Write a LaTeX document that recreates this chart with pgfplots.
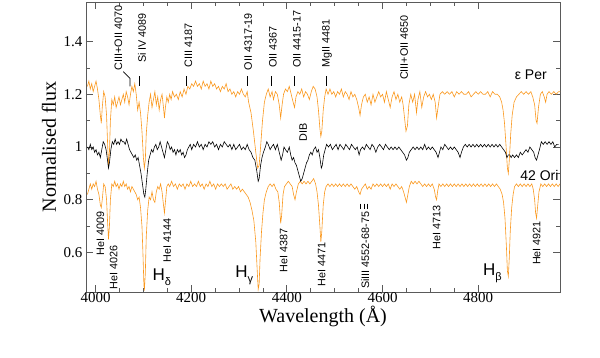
\documentclass[border=0pt]{standalone}
\usepackage{fontspec}
\setmainfont{Liberation Serif}
\setsansfont{Liberation Sans}
\usepackage{pgfplots}
\pgfplotsset{compat=1.18}
\definecolor{spec}{RGB}{250,152,30}
\definecolor{frame}{RGB}{90,90,90}

\newcommand{\lab}{\sffamily\fontsize{10.8}{12}\selectfont}
\tikzset{idl/.style={rotate=90, inner sep=0pt, font=\lab}}

\begin{document}
\begin{tikzpicture}
\begin{axis}[
    scale only axis,
    width=474pt, height=290pt,
    xmin=3980, xmax=4971,
    ymin=0.45, ymax=1.55,
    xtick={4000,4200,4400,4600,4800},
    minor x tick num=3,
    ytick={0.6,0.8,1,1.2,1.4},
    minor y tick num=1,
    scaled x ticks=false,
    /pgf/number format/1000 sep={},
    /pgf/number format/assume math mode=true,
    tick label style={font=\fontsize{15}{15}\selectfont},
    x tick label style={yshift=3pt},
    major tick length=7pt, minor tick length=4pt,
    axis line style={frame, line width=0.8pt},
    every tick/.style={frame, line width=0.8pt},
    xlabel={Wavelength (Å)},
    ylabel={Normalised flux},
    label style={font=\fontsize{20}{20}\selectfont},
    xlabel style={at={(rel axis cs:0.5,0)}, anchor=base, yshift=-31pt},
    ylabel style={at={(rel axis cs:0,0.5)}, anchor=center, xshift=0pt, yshift=37pt},
]
% epsilon Per (offset)
\addplot[spec, line width=0.6pt] coordinates {
(3983,1.23) (3986,1.25) (3989,1.22) (3992,1.24) (3995,1.21) (3998,1.23) (4001,1.25) (4004,1.22)
(4007,1.18) (4010,1.12) (4012,1.09) (4014,1.15) (4017,1.21) (4020,1.19) (4023,1.12) (4025,1.02)
(4027,0.93) (4029,0.98) (4031,1.10) (4034,1.18) (4037,1.16) (4040,1.19) (4043,1.15) (4046,1.17)
(4049,1.19) (4052,1.16) (4055,1.18) (4058,1.20) (4061,1.17) (4064,1.21) (4067,1.19) (4070,1.16)
(4073,1.20) (4076,1.23) (4079,1.21) (4082,1.24) (4085,1.20) (4088,1.14) (4091,1.17) (4094,1.13)
(4097,1.06) (4100,0.96) (4102,0.92) (4104,0.95) (4106,1.05) (4109,1.12) (4112,1.17) (4115,1.20)
(4118,1.15) (4121,1.18) (4124,1.21) (4127,1.16) (4130,1.19) (4133,1.14) (4136,1.18) (4139,1.20)
(4142,1.15) (4144,1.11) (4146,1.15) (4149,1.19) (4152,1.17) (4155,1.20) (4158,1.18) (4161,1.21)
(4165,1.19) (4169,1.20) (4173,1.18) (4177,1.21) (4181,1.19) (4185,1.22) (4189,1.20) (4193,1.23)
(4197,1.22) (4201,1.24) (4205,1.23) (4209,1.25) (4213,1.23) (4217,1.24) (4221,1.22) (4225,1.25)
(4229,1.23) (4233,1.24) (4237,1.22) (4241,1.25) (4245,1.23) (4249,1.24) (4253,1.22) (4257,1.23)
(4261,1.21) (4265,1.23) (4269,1.22) (4273,1.24) (4277,1.21) (4281,1.22) (4285,1.20) (4289,1.21)
(4293,1.19) (4297,1.21) (4301,1.20) (4305,1.22) (4309,1.20) (4313,1.19) (4317,1.21) (4320,1.17)
(4325,1.13) (4330,1.06) (4335,0.98) (4339,0.92) (4342,0.93) (4345,1.00) (4349,1.10) (4353,1.17)
(4357,1.20) (4361,1.22) (4365,1.19) (4369,1.21) (4372,1.18) (4376,1.21) (4380,1.20) (4384,1.16)
(4387,1.11) (4390,1.16) (4393,1.20) (4397,1.22) (4401,1.21) (4405,1.23) (4409,1.20) (4413,1.17)
(4416,1.15) (4419,1.19) (4423,1.21) (4427,1.20) (4431,1.22) (4435,1.19) (4439,1.21) (4443,1.20)
(4447,1.18) (4451,1.21) (4455,1.23) (4459,1.22) (4463,1.19) (4466,1.14) (4469,1.07) (4471,1.04)
(4473,1.06) (4476,1.14) (4479,1.19) (4482,1.22) (4486,1.20) (4490,1.22) (4494,1.20) (4498,1.21)
(4502,1.19) (4506,1.21) (4510,1.20) (4514,1.22) (4518,1.19) (4522,1.21) (4526,1.20) (4530,1.18)
(4534,1.21) (4538,1.19) (4542,1.20) (4546,1.18) (4550,1.15) (4553,1.12) (4556,1.16) (4560,1.19)
(4564,1.20) (4568,1.17) (4572,1.19) (4576,1.16) (4580,1.20) (4584,1.17) (4588,1.19) (4592,1.21)
(4596,1.19) (4600,1.20) (4604,1.17) (4608,1.21) (4612,1.18) (4616,1.15) (4620,1.19) (4624,1.21)
(4628,1.18) (4632,1.20) (4636,1.17) (4640,1.19) (4643,1.16) (4646,1.11) (4649,1.06) (4652,1.08)
(4655,1.16) (4659,1.20) (4663,1.17) (4667,1.20) (4671,1.13) (4674,1.18) (4678,1.21) (4682,1.15)
(4686,1.19) (4690,1.21) (4694,1.19) (4698,1.20) (4702,1.18) (4706,1.20) (4710,1.17) (4713,1.11)
(4716,1.15) (4720,1.20) (4725,1.21) (4730,1.20) (4735,1.21) (4740,1.20) (4745,1.21) (4750,1.19)
(4755,1.21) (4760,1.20) (4765,1.21) (4770,1.20) (4775,1.20) (4780,1.21) (4785,1.19) (4790,1.20)
(4795,1.21) (4800,1.20) (4805,1.21) (4810,1.20) (4815,1.20) (4820,1.21) (4825,1.19) (4830,1.21)
(4835,1.20) (4840,1.20) (4845,1.19) (4849,1.17) (4852,1.14) (4855,1.09) (4858,1.01) (4861,0.92)
(4863,0.90) (4865,0.95) (4868,1.05) (4871,1.12) (4875,1.17) (4880,1.19) (4885,1.20) (4890,1.21)
(4895,1.20) (4900,1.21) (4905,1.20) (4910,1.21) (4914,1.19) (4918,1.16) (4921,1.10) (4923,1.09)
(4926,1.15) (4930,1.20) (4934,1.21) (4938,1.19) (4941,1.17) (4944,1.20) (4948,1.21) (4953,1.20)
(4958,1.21) (4963,1.20) (4968,1.21) (4971,1.21)
};
% 42 Ori (offset)
\addplot[spec, line width=0.6pt] coordinates {
(3983,0.82) (3986,0.84) (3989,0.86) (3992,0.84) (3995,0.86) (3998,0.85) (4001,0.87) (4004,0.84)
(4007,0.82) (4010,0.78) (4012,0.77) (4014,0.80) (4017,0.86) (4020,0.85) (4023,0.80) (4025,0.72)
(4027,0.65) (4029,0.70) (4031,0.80) (4034,0.86) (4037,0.85) (4040,0.87) (4043,0.85) (4046,0.86)
(4049,0.84) (4052,0.86) (4055,0.85) (4058,0.87) (4061,0.85) (4064,0.86) (4067,0.84) (4070,0.85)
(4073,0.83) (4076,0.85) (4079,0.84) (4082,0.83) (4085,0.82) (4088,0.80) (4091,0.81) (4094,0.77)
(4097,0.70) (4099,0.60) (4101,0.48) (4102,0.455) (4104,0.52) (4106,0.66) (4109,0.76) (4112,0.81)
(4115,0.80) (4118,0.83) (4121,0.80) (4124,0.79) (4127,0.83) (4130,0.85) (4133,0.84) (4136,0.86)
(4139,0.83) (4142,0.78) (4144,0.75) (4146,0.79) (4149,0.85) (4152,0.86) (4155,0.85) (4159,0.87)
(4163,0.85) (4167,0.86) (4171,0.84) (4175,0.86) (4179,0.85) (4183,0.86) (4187,0.84) (4191,0.86)
(4195,0.85) (4199,0.87) (4203,0.85) (4207,0.86) (4211,0.85) (4215,0.87) (4219,0.85) (4223,0.86)
(4227,0.84) (4231,0.86) (4235,0.85) (4239,0.87) (4243,0.85) (4247,0.86) (4251,0.84) (4255,0.86)
(4259,0.85) (4263,0.86) (4267,0.85) (4271,0.86) (4275,0.84) (4279,0.85) (4283,0.86) (4287,0.84)
(4291,0.85) (4295,0.84) (4299,0.85) (4303,0.83) (4307,0.84) (4311,0.83) (4315,0.82) (4319,0.81)
(4323,0.79) (4327,0.76) (4331,0.72) (4335,0.64) (4338,0.53) (4340,0.46) (4342,0.48) (4344,0.58)
(4347,0.68) (4350,0.75) (4353,0.80) (4357,0.83) (4361,0.85) (4365,0.86) (4369,0.85) (4373,0.86)
(4377,0.84) (4381,0.83) (4384,0.79) (4387,0.71) (4389,0.74) (4392,0.82) (4395,0.85) (4399,0.86)
(4403,0.87) (4407,0.86) (4411,0.85) (4414,0.82) (4417,0.80) (4420,0.83) (4424,0.86) (4428,0.87)
(4432,0.86) (4436,0.87) (4440,0.86) (4444,0.87) (4448,0.86) (4452,0.87) (4456,0.88) (4460,0.86)
(4463,0.83) (4466,0.78) (4469,0.70) (4471,0.64) (4473,0.68) (4476,0.78) (4479,0.83) (4482,0.85)
(4486,0.86) (4490,0.85) (4494,0.86) (4498,0.85) (4502,0.86) (4506,0.85) (4510,0.86) (4514,0.85)
(4518,0.86) (4522,0.85) (4526,0.86) (4530,0.85) (4534,0.86) (4538,0.85) (4542,0.84) (4546,0.85)
(4550,0.83) (4553,0.82) (4556,0.84) (4560,0.85) (4564,0.86) (4568,0.84) (4572,0.85) (4576,0.84)
(4580,0.86) (4584,0.85) (4588,0.86) (4592,0.85) (4596,0.86) (4600,0.85) (4604,0.86) (4608,0.85)
(4612,0.86) (4616,0.84) (4620,0.86) (4624,0.85) (4628,0.86) (4632,0.85) (4636,0.84) (4640,0.85)
(4644,0.83) (4647,0.81) (4650,0.79) (4653,0.82) (4656,0.85) (4660,0.87) (4664,0.86) (4668,0.87)
(4672,0.86) (4676,0.87) (4680,0.86) (4684,0.85) (4688,0.86) (4692,0.85) (4696,0.86) (4700,0.85)
(4704,0.86) (4708,0.84) (4711,0.81) (4713,0.80) (4715,0.83) (4718,0.86) (4722,0.85) (4726,0.86)
(4730,0.85) (4734,0.86) (4738,0.85) (4742,0.86) (4746,0.85) (4750,0.86) (4754,0.85) (4758,0.86)
(4762,0.85) (4766,0.86) (4770,0.85) (4774,0.86) (4778,0.85) (4782,0.86) (4786,0.85) (4790,0.86)
(4794,0.85) (4798,0.86) (4802,0.85) (4806,0.86) (4810,0.85) (4814,0.86) (4818,0.85) (4822,0.86)
(4826,0.85) (4830,0.86) (4834,0.85) (4838,0.86) (4842,0.85) (4846,0.84) (4850,0.82) (4853,0.79)
(4856,0.73) (4859,0.62) (4861,0.53) (4863,0.51) (4865,0.58) (4867,0.68) (4870,0.77) (4873,0.82)
(4876,0.85) (4880,0.86) (4884,0.85) (4888,0.86) (4892,0.85) (4896,0.86) (4900,0.85) (4904,0.86)
(4908,0.85) (4912,0.86) (4915,0.84) (4918,0.80) (4920,0.75) (4922,0.73) (4924,0.77) (4927,0.83)
(4931,0.86) (4935,0.85) (4939,0.86) (4943,0.85) (4947,0.86) (4951,0.85) (4955,0.86) (4959,0.85)
(4963,0.86) (4967,0.85) (4971,0.86)
};
% comparison spectrum
\addplot[black, line width=0.6pt] coordinates {
(3983,1.00) (3986,0.99) (3989,1.01) (3992,0.99) (3995,1.00) (3998,0.98) (4001,0.99) (4004,0.97)
(4007,0.98) (4010,0.96) (4013,0.99) (4016,1.02) (4019,1.01) (4022,0.99) (4025,0.95) (4027,0.92)
(4029,0.94) (4032,0.99) (4035,1.02) (4038,1.01) (4041,1.03) (4044,1.01) (4047,1.02) (4050,1.01)
(4053,1.03) (4056,1.02) (4059,1.02) (4062,1.01) (4065,1.03) (4068,1.01) (4071,0.99) (4074,0.98)
(4077,0.97) (4080,0.96) (4083,0.97) (4086,0.95) (4089,0.96) (4092,0.93) (4095,0.90) (4098,0.86)
(4101,0.82) (4103,0.81) (4105,0.84) (4108,0.90) (4111,0.95) (4114,0.97) (4117,0.99) (4120,0.98)
(4123,1.00) (4126,1.01) (4129,0.99) (4132,1.00) (4135,1.02) (4138,1.00) (4141,0.98) (4144,0.96)
(4147,0.99) (4150,1.02) (4153,1.01) (4156,0.99) (4159,1.00) (4162,0.98) (4165,0.99) (4168,0.97)
(4171,0.99) (4174,0.98) (4177,0.99) (4180,0.97) (4183,0.98) (4186,0.96) (4189,0.97) (4192,0.99)
(4195,1.00) (4198,1.01) (4201,0.99) (4205,1.01) (4209,1.00) (4213,1.02) (4217,1.00) (4221,1.01)
(4225,0.99) (4229,1.01) (4233,1.00) (4237,1.02) (4241,1.01) (4245,1.02) (4249,1.00) (4253,1.01)
(4257,0.99) (4261,1.01) (4265,1.00) (4269,1.02) (4273,1.01) (4277,1.00) (4281,1.01) (4285,0.99)
(4289,1.01) (4293,0.99) (4297,1.00) (4301,1.01) (4305,0.99) (4309,1.00) (4313,0.99) (4317,1.01)
(4321,0.99) (4325,0.98) (4329,0.96) (4333,0.95) (4337,0.91) (4340,0.87) (4342,0.88) (4345,0.93)
(4348,0.96) (4351,0.98) (4355,1.00) (4358,1.02) (4361,1.01) (4365,0.99) (4368,1.00) (4372,1.01)
(4376,0.99) (4380,1.01) (4384,0.98) (4388,0.95) (4391,0.97) (4394,1.00) (4397,0.99) (4401,0.98)
(4405,1.00) (4408,0.97) (4411,0.95) (4414,0.96) (4417,0.94) (4420,0.93) (4423,0.91) (4426,0.89)
(4429,0.87) (4432,0.88) (4435,0.90) (4438,0.92) (4441,0.94) (4444,0.95) (4447,0.97) (4450,0.98)
(4453,0.97) (4456,0.99) (4460,1.00) (4463,0.98) (4466,0.99) (4469,0.96) (4472,0.92) (4474,0.93)
(4477,0.97) (4480,0.99) (4483,1.01) (4487,1.00) (4491,1.01) (4495,0.99) (4499,1.00) (4503,1.01)
(4507,0.99) (4511,1.01) (4515,1.00) (4519,0.99) (4523,1.01) (4527,1.00) (4531,0.99) (4535,1.01)
(4539,1.00) (4543,0.99) (4547,1.00) (4551,0.97) (4554,0.99) (4558,1.00) (4562,0.99) (4566,1.01)
(4570,1.00) (4574,0.99) (4578,1.01) (4582,1.00) (4586,0.98) (4590,1.00) (4594,1.01) (4598,1.00)
(4602,0.99) (4606,1.01) (4610,1.00) (4614,0.99) (4618,1.00) (4622,0.99) (4626,1.00) (4630,0.99)
(4634,1.00) (4638,0.99) (4642,0.98) (4646,0.97) (4650,0.95) (4653,0.96) (4656,0.98) (4660,0.99)
(4664,1.00) (4668,0.99) (4672,1.00) (4676,0.99) (4680,1.00) (4684,0.99) (4688,1.01) (4692,0.99)
(4696,1.00) (4700,0.99) (4704,1.00) (4708,0.99) (4712,0.98) (4716,0.96) (4719,0.98) (4722,1.00)
(4726,0.99) (4730,1.01) (4734,1.00) (4738,0.99) (4742,1.00) (4746,0.99) (4750,1.00) (4754,0.99)
(4758,0.98) (4762,0.96) (4765,0.98) (4769,1.00) (4773,1.01) (4777,1.00) (4781,1.01) (4785,1.00)
(4789,1.01) (4793,1.00) (4797,1.01) (4801,1.00) (4805,1.01) (4809,1.00) (4813,1.01) (4817,1.00)
(4821,1.01) (4825,1.00) (4829,1.01) (4833,1.00) (4837,1.01) (4841,1.00) (4845,1.01) (4849,1.00)
(4853,0.99) (4857,0.98) (4860,0.96) (4863,0.97) (4866,0.97) (4869,0.96) (4872,0.97) (4876,0.96)
(4880,0.97) (4884,0.96) (4888,0.98) (4892,0.97) (4896,0.98) (4900,0.99) (4904,0.98) (4908,1.00)
(4912,0.99) (4916,0.98) (4919,0.96) (4922,0.95) (4925,0.97) (4928,0.99) (4932,1.02) (4936,1.01)
(4940,1.02) (4944,1.01) (4948,1.02) (4952,1.01) (4956,1.02) (4960,1.00) (4964,1.01) (4968,1.01)
};

% line identifications, upper spectrum
\draw[black, line width=0.7pt] (axis cs:4058,1.286) -- (axis cs:4072,1.26) -- (axis cs:4072,1.23);
\draw[black, line width=0.7pt] (axis cs:4092,1.268) -- (axis cs:4092,1.23);
\draw[black, line width=0.7pt] (axis cs:4190,1.268) -- (axis cs:4190,1.23);
\draw[black, line width=0.7pt] (axis cs:4317,1.268) -- (axis cs:4317,1.23);
\draw[black, line width=0.7pt] (axis cs:4368,1.268) -- (axis cs:4368,1.23);
\draw[black, line width=0.7pt] (axis cs:4416,1.268) -- (axis cs:4416,1.23);
\draw[black, line width=0.7pt] (axis cs:4482,1.268) -- (axis cs:4482,1.23);
\node[idl, anchor=west] at (axis cs:4048,1.29) {CIII+OII 4070};
\node[idl, anchor=west] at (axis cs:4097,1.318) {Si IV 4089};
\node[idl, anchor=west] at (axis cs:4194,1.30) {CIII 4187};
\node[idl, anchor=west] at (axis cs:4319,1.29) {OII 4317-19};
\node[idl, anchor=west] at (axis cs:4371,1.30) {OII 4367};
\node[idl, anchor=west] at (axis cs:4421,1.30) {OII 4415-17};
\node[idl, anchor=west] at (axis cs:4484,1.30) {MgII 4481};
\node[idl, anchor=west] at (axis cs:4645,1.254) {CIII+OII 4650};
\node[idl] at (axis cs:4434,1.056) {DIB};
\node[font=\sffamily\fontsize{14}{14}\selectfont] at (axis cs:4910,1.273) {ε Per};
\node[font=\sffamily\fontsize{14}{14}\selectfont] at (axis cs:4928,0.892) {42 Ori};

% line identifications, lower spectrum
\node[idl, anchor=east] at (axis cs:4010,0.755) {HeI 4009};
\node[idl, anchor=east] at (axis cs:4038,0.626) {HeI 4026};
\node[idl, anchor=east] at (axis cs:4150,0.73) {HeI 4144};
\node[idl, anchor=east] at (axis cs:4393,0.69) {HeI 4387};
\node[idl, anchor=east] at (axis cs:4473,0.637) {HeI 4471};
\node[idl, anchor=east] at (axis cs:4564,0.755) {SiIII 4552-68-75};
\node[idl, anchor=east] at (axis cs:4713,0.78) {HeI 4713};
\node[idl, anchor=east] at (axis cs:4922,0.72) {HeI 4921};
\draw[black, line width=0.8pt] (axis cs:4553,0.785) -- (axis cs:4553,0.766);
\draw[black, line width=0.8pt] (axis cs:4562,0.785) -- (axis cs:4562,0.766);
\draw[black, line width=0.8pt] (axis cs:4568,0.785) -- (axis cs:4568,0.766);
\node[anchor=base west, inner sep=0pt, font=\sffamily\fontsize{17}{17}\selectfont] at (axis cs:4119,0.492) {H\raisebox{-5pt}{\fontsize{11}{11}\selectfont δ}};
\node[anchor=base west, inner sep=0pt, font=\sffamily\fontsize{17}{17}\selectfont] at (axis cs:4292,0.504) {H\raisebox{-5pt}{\fontsize{11}{11}\selectfont γ}};
\node[anchor=base west, inner sep=0pt, font=\sffamily\fontsize{17}{17}\selectfont] at (axis cs:4810,0.511) {H\raisebox{-5pt}{\fontsize{11}{11}\selectfont β}};
\end{axis}
\pgfresetboundingbox
\path (-86pt,-66pt) rectangle (514pt,292pt);
\end{tikzpicture}
\end{document}
